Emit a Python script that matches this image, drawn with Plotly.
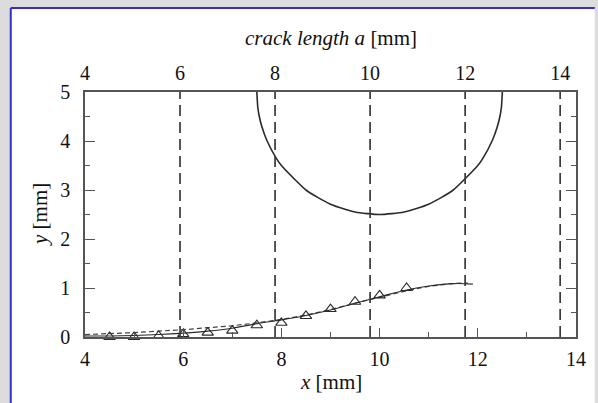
import plotly.graph_objects as go

# ---- data ----
# semicircular crack front (x [mm], y [mm])
front_x = [7.5, 7.52, 7.55, 7.6, 7.7, 7.9, 8.0, 8.5, 9.0, 9.5, 10.0, 10.5, 11.0, 11.5, 12.0, 12.1, 12.3, 12.4, 12.45, 12.48, 12.5]
front_y = [5.0, 4.68, 4.50, 4.30, 4.02, 3.64, 3.50, 3.00, 2.71, 2.55, 2.50, 2.55, 2.71, 3.00, 3.50, 3.64, 4.02, 4.30, 4.50, 4.68, 5.0]

# lower profile curves
solid_x = [4.0, 4.5, 5.0, 5.5, 6.0, 6.5, 7.0, 7.5, 8.0, 8.5, 9.0, 9.5, 10.0, 10.5, 11.0, 11.5, 11.9]
solid_y = [0.02, 0.02, 0.03, 0.05, 0.08, 0.12, 0.18, 0.27, 0.35, 0.44, 0.55, 0.69, 0.82, 0.95, 1.04, 1.09, 1.08]
dash_x = [4.0, 4.5, 5.0, 5.5, 6.0, 6.5, 7.0, 7.5, 8.0, 8.5, 9.0, 9.5, 10.0, 10.5, 11.0, 11.5, 11.8]
dash_y = [0.05, 0.07, 0.09, 0.12, 0.15, 0.19, 0.23, 0.29, 0.36, 0.45, 0.56, 0.69, 0.81, 0.93, 1.03, 1.09, 1.10]

# measured points (triangles)
tri_x = [4.5, 5.0, 5.5, 6.0, 6.5, 7.0, 7.5, 8.0, 8.5, 9.0, 9.5, 10.0, 10.55]
tri_y = [0.0, 0.0, 0.02, 0.06, 0.09, 0.13, 0.24, 0.29, 0.43, 0.57, 0.72, 0.85, 1.0]

# crack length positions (top axis)
crack_a = [6, 8, 10, 12, 14]

x_ticks = [4, 6, 8, 10, 12, 14]
y_ticks = [0, 1, 2, 3, 4, 5]
top_ticks = [4, 6, 8, 10, 12, 14]

FONT = "Liberation Serif, Times New Roman, serif"
INK = "#2b2b2b"
FS = 21
TFS = 20

fig = go.Figure()

# dashed vertical lines on top axis
vx, vy = [], []
for a in crack_a:
    vx += [a, a, None]
    vy += [0, 5, None]
fig.add_trace(go.Scatter(x=vx, y=vy, xaxis="x2", yaxis="y", mode="lines",
                         line=dict(color="#3a3a3a", width=1.7, dash="11px,6px"),
                         hoverinfo="skip", showlegend=False))

fig.add_trace(go.Scatter(x=front_x, y=front_y, mode="lines",
                         line=dict(color=INK, width=1.6, shape="spline", smoothing=0.6),
                         showlegend=False))

fig.add_trace(go.Scatter(x=dash_x, y=dash_y, mode="lines",
                         line=dict(color="#444444", width=1.2, dash="5px,3px", shape="spline"),
                         showlegend=False))
fig.add_trace(go.Scatter(x=solid_x, y=solid_y, mode="lines",
                         line=dict(color=INK, width=1.1, shape="spline"),
                         showlegend=False))
fig.add_trace(go.Scatter(x=tri_x, y=tri_y, mode="markers",
                         marker=dict(symbol="triangle-up-open", size=10, color=INK,
                                     line=dict(width=1.1)),
                         cliponaxis=False, showlegend=False))

# plot area px: x 85..581, y 92..337
L, R, T, B = 85, 581, 92, 337
W, H = R - L, B - T
def px(xp):
    return (xp - L) / W
def py(yp):
    return (B - yp) / H

shapes = [
    dict(type="rect", xref="paper", yref="paper", x0=px(10), x1=px(600), y0=py(8), y1=py(405),
         fillcolor="white", line=dict(width=0), layer="below"),
    dict(type="line", xref="paper", yref="paper", x0=px(10), x1=px(10), y0=py(8), y1=py(405),
         line=dict(color="#2f2fd0", width=2), layer="below"),
    dict(type="line", xref="paper", yref="paper", x0=px(10), x1=px(600), y0=py(8), y1=py(8),
         line=dict(color="#2f2fd0", width=2), layer="below"),
]

annotations = [
    dict(text="<i>crack length a</i> [mm]", xref="paper", yref="paper", x=0.5, y=py(38),
         showarrow=False, font=dict(family=FONT, size=FS, color="#111"), xanchor="center", yanchor="middle"),
    dict(text="<i>x</i> [mm]", xref="paper", yref="paper", x=0.5, y=py(382),
         showarrow=False, font=dict(family=FONT, size=FS, color="#111"), xanchor="center", yanchor="middle"),
    dict(text="<i>y</i> [mm]", xref="paper", yref="paper", x=px(39), y=0.5, textangle=-90,
         showarrow=False, font=dict(family=FONT, size=FS, color="#111"), xanchor="center", yanchor="middle"),
]

tickfont = dict(family=FONT, size=TFS, color="#111")
axis_common = dict(linecolor="#555555", linewidth=1.6, showgrid=False, zeroline=False)

fig.update_layout(
    width=598, height=403,
    font=dict(family=FONT, size=FS, color="#111"),
    margin=dict(l=L, r=598 - R, t=T, b=403 - B),
    paper_bgcolor="#dcdcdc",
    plot_bgcolor="rgba(0,0,0,0)",
    shapes=shapes,
    annotations=annotations,
    xaxis=dict(range=[4, 14], tickvals=x_ticks, ticks="inside", ticklen=9, tickwidth=1.3,
               tickcolor="#555555", showline=True, mirror=True, tickfont=tickfont,
               minor=dict(dtick=1, tick0=4, ticks="inside", ticklen=5, tickwidth=1.3, tickcolor="#555555"),
               ticklabelstandoff=3, **axis_common),
    xaxis2=dict(range=[4, 4 + W / 48.0], tickvals=top_ticks, overlaying="x", side="top",
                anchor="y", ticks="", showline=False, ticklabelstandoff=7, tickfont=tickfont,
                showgrid=False, zeroline=False),
    yaxis=dict(range=[0, 5], tickvals=y_ticks, ticks="inside", ticklen=10, tickwidth=1.3,
               tickcolor="#555555", showline=True, mirror="ticks", tickfont=tickfont,
               minor=dict(dtick=0.5, tick0=0, ticks="inside", ticklen=5, tickwidth=1.3, tickcolor="#555555"),
               ticklabelstandoff=9, **axis_common),
)

fig.write_html("out.html")
